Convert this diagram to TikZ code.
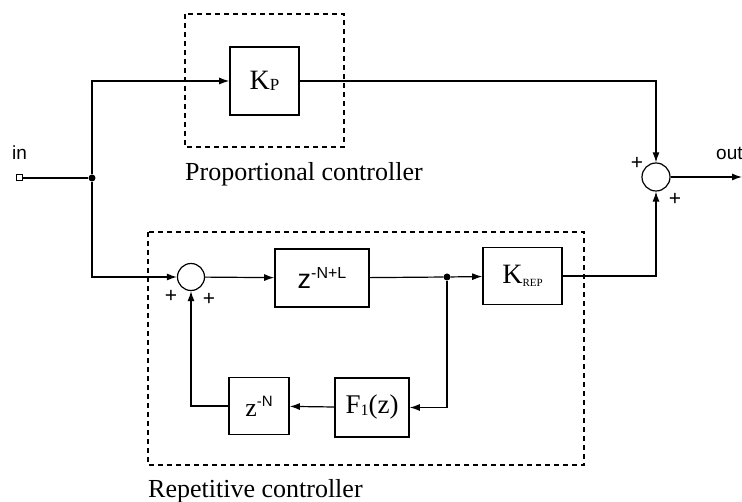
\documentclass[tikz,border=0pt]{standalone}
\usepackage{fontspec}
\setmainfont{Liberation Serif}
\newfontfamily\sansf{Liberation Sans}
\usetikzlibrary{arrows.meta}
\newcommand{\fs}[1]{\fontsize{#1}{#1}\selectfont}
\begin{document}
\begin{tikzpicture}[x=1pt,y=-1pt,
  blk/.style={draw, line width=1.6pt, inner sep=0pt},
  sig/.style={line width=1.2pt},
  arr/.style={sig, -{Latex[length=10pt,width=7pt]}},
  sumc/.style={draw, circle, line width=1.2pt, minimum size=27pt, inner sep=0pt},
  dbox/.style={draw, line width=1.1pt, dash pattern=on 5pt off 4pt},
  lbl/.style={font=\fs{26}, anchor=base west, inner sep=0pt},
  slbl/.style={font=\sansf\fs{19}, anchor=base west, inner sep=0pt},
  pl/.style={font=\sansf\fs{21}, inner sep=0pt},
  dot/.style={circle, fill, inner sep=0pt, minimum size=7pt}]
\useasboundingbox (0,0) rectangle (742,502);

% dashed groups
\draw[dbox] (185,14) rectangle (344,147);
\draw[dbox] (148,232) rectangle (584,465);
\node[lbl] (plab) at (185,181) {Proportional controller};
\node[lbl] (rlab) at (148,497) {Repetitive controller};

% blocks
\node[blk, minimum width=69pt, minimum height=68pt] (kp) at (264.5,81)
  {\fs{28}K\raisebox{-1pt}{\fs{17}P}};
\node[blk, minimum width=94pt, minimum height=58pt] (zl) at (322,278)
  {\sansf\fs{27}z\raisebox{10pt}{\fs{16}-N+L}};
\node[blk, minimum width=79pt, minimum height=57pt] (kr) at (522.5,276)
  {\fs{28}K\raisebox{-3pt}{\fs{11}REP}};
\node[blk, minimum width=74pt, minimum height=59pt] (f1) at (372,407.5)
  {\fs{27}F\raisebox{-2pt}{\fs{16}1}(z)};
\node[blk, minimum width=60pt, minimum height=57pt] (zn) at (259,406)
  {\fs{26}z\raisebox{10pt}{\sansf\fs{15}-N}};

% summing junctions
\node[sumc] (s1) at (191,277) {};
\node[sumc, minimum size=28pt] (s2) at (656,177) {};
\node[pl] (p1) at (171,296) {+};
\node[pl] (p2) at (209,299) {+};
\node[pl] (p3) at (637,163) {+};
\node[pl] (p4) at (675,199) {+};

% terminals and junctions
\node[draw, line width=1pt, minimum size=6pt, inner sep=0pt, fill=white] (inp) at (19,178) {};
\node[slbl] (inl) at (12,160) {in};
\node[slbl] (outl) at (716,160) {out};
\coordinate (outc) at (742,177);
\node[dot] (j1) at (92,178) {};
\node[dot] (j2) at (447,277) {};

% connectors
\draw[sig] (inp) -- (j1);
\draw[arr] (j1) |- (kp.west);
\draw[arr] (j1) |- (s1.west);
\draw[arr] (s1) -- (zl);
\draw[sig] (zl) -- (j2);
\draw[arr] (j2) -- (kr);
\draw[arr] (kp) -| (s2.north);
\draw[arr] (kr) -| (s2.south);
\draw[arr] (s2) -- (outc);
\draw[arr] (j2) |- (f1.east);
\draw[arr] (f1) -- (zn);
\draw[arr] (zn.west) -| (s1.south);
\end{tikzpicture}
\end{document}
